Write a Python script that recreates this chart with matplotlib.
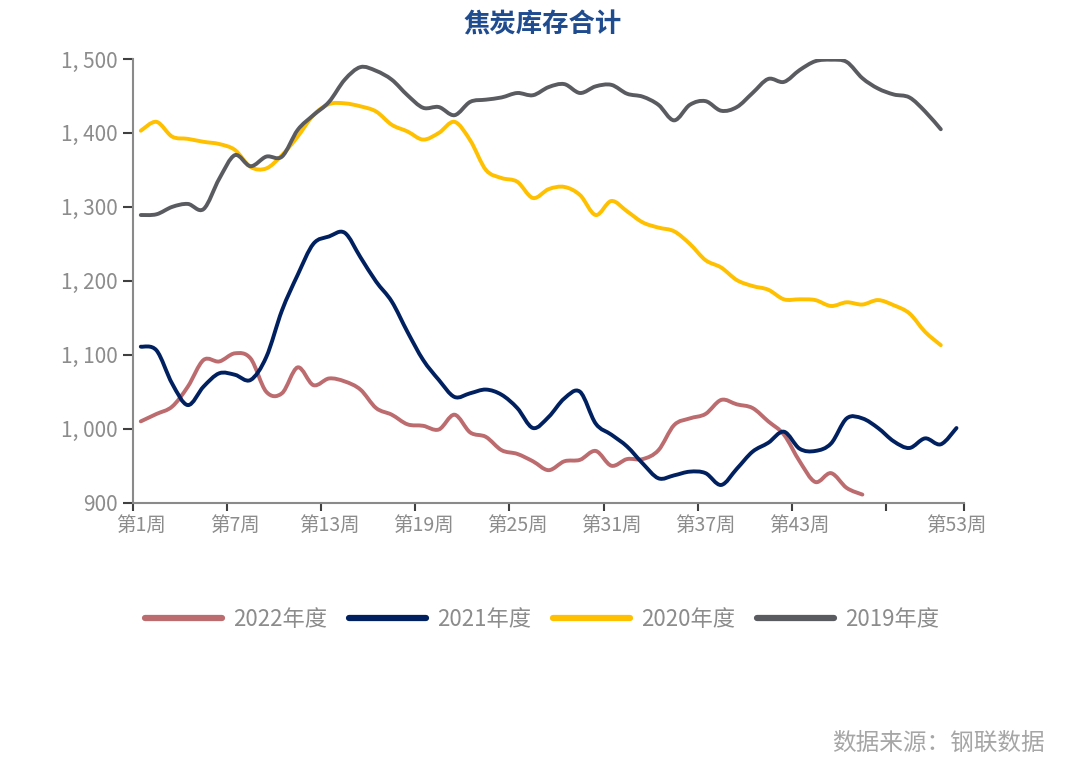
"""
焦炭库存合计: weekly coke inventory, 2019-2022 seasons
"""

import matplotlib
matplotlib.use("Agg")
import matplotlib.pyplot as plt
from matplotlib.path import Path
from matplotlib.patches import PathPatch
from matplotlib.lines import Line2D
from matplotlib.ticker import FuncFormatter

# weekly values
inv_2022 = [1010, 1020, 1030, 1057, 1093, 1091, 1102, 1095, 1050, 1048,
            1083, 1059, 1068, 1064, 1053, 1028, 1019, 1006, 1004, 999,
            1019, 995, 989, 971, 966, 956, 944, 956, 958, 970,
            950, 959, 959, 971, 1005, 1014, 1020, 1039, 1033, 1028,
            1010, 992, 956, 928, 940, 920, 911]
inv_2021 = [1111, 1106, 1061, 1032, 1057, 1075, 1073, 1066, 1097, 1160,
            1208, 1250, 1260, 1265, 1232, 1199, 1172, 1131, 1093, 1066,
            1043, 1048, 1053, 1046, 1028, 1001, 1016, 1041, 1050, 1007,
            992, 976, 953, 933, 937, 942, 940, 924, 946, 969,
            981, 996, 973, 970, 980, 1014, 1014, 1001, 983, 974,
            987, 979, 1001]
inv_2020 = [1403, 1415, 1395, 1392, 1388, 1385, 1377, 1354, 1352, 1370,
            1395, 1424, 1439, 1440, 1436, 1429, 1411, 1402, 1391, 1400,
            1415, 1390, 1350, 1339, 1334, 1312, 1324, 1327, 1316, 1289,
            1308, 1294, 1279, 1272, 1267, 1250, 1228, 1218, 1201, 1193,
            1188, 1175, 1175, 1174, 1166, 1171, 1168, 1174, 1167, 1156,
            1131, 1113]
inv_2019 = [1289, 1290, 1300, 1304, 1297, 1338, 1370, 1355, 1368, 1368,
            1404, 1424, 1442, 1472, 1489, 1484, 1472, 1451, 1434, 1435,
            1424, 1442, 1445, 1448, 1454, 1451, 1462, 1466, 1454, 1463,
            1465, 1453, 1449, 1438, 1417, 1438, 1443, 1430, 1435, 1454,
            1473, 1469, 1485, 1497, 1499, 1496, 1474, 1460, 1452, 1448,
            1429, 1405]

series = [("2022年度", inv_2022, "#BC6B6E"),
          ("2021年度", inv_2021, "#002060"),
          ("2020年度", inv_2020, "#FFC000"),
          ("2019年度", inv_2019, "#595B60")]

week_labels = {1: "第1周", 7: "第7周", 13: "第13周", 19: "第19周", 25: "第25周",
               31: "第31周", 37: "第37周", 43: "第43周", 53: "第53周"}

num_font = ["Liberation Sans Narrow", "Noto Sans CJK SC", "DejaVu Sans"]
cjk_font = ["Noto Sans CJK SC", "DejaVu Sans"]
label_grey = "#8C8C8C"


def smooth_path(xs, ys):
    # excel-like smoothed line: cubic bezier segments through every point
    pts = list(zip(xs, ys))
    verts = [pts[0]]
    codes = [Path.MOVETO]
    n = len(pts)
    for i in range(n - 1):
        p0 = pts[max(i - 1, 0)]
        p1 = pts[i]
        p2 = pts[i + 1]
        p3 = pts[min(i + 2, n - 1)]
        c1 = (p1[0] + (p2[0] - p0[0]) / 6, p1[1] + (p2[1] - p0[1]) / 6)
        c2 = (p2[0] - (p3[0] - p1[0]) / 6, p2[1] - (p3[1] - p1[1]) / 6)
        verts += [c1, c2, p2]
        codes += [Path.CURVE4] * 3
    return Path(verts, codes)


if __name__ == "__main__":
    fig = plt.figure(figsize=(10.8, 7.74), dpi=100)
    ax = fig.add_axes([0.1231, 0.3505, 0.7698, 0.5733])

    handles = []
    for name, vals, color in series:
        weeks = list(range(1, len(vals) + 1))
        patch = PathPatch(smooth_path(weeks, vals), fill=False, edgecolor=color,
                          lw=2.8, capstyle="round", joinstyle="round")
        ax.add_patch(patch)
        handles.append(Line2D([], [], color=color, lw=4.5, solid_capstyle="round",
                              label=name))

    ax.set_xlim(0.5, 53.5)
    ax.set_ylim(900, 1500)

    # tick marks sit between categories, labels at the category centres
    ax.set_xticks([0.5, 6.5, 12.5, 18.5, 24.5, 30.5, 36.5, 42.5, 48.5, 53.5])
    ax.set_xticklabels([])
    ax.set_xticks(list(week_labels.keys()), minor=True)
    ax.set_xticklabels(list(week_labels.values()), minor=True)
    ax.tick_params(axis="x", which="major", direction="out", length=6,
                   width=1.5, color="#404040")
    ax.tick_params(axis="x", which="minor", length=0, pad=9,
                   labelsize=14, labelcolor=label_grey)
    for t in ax.get_xticklabels(minor=True):
        t.set_family(num_font)

    ax.set_yticks(range(900, 1501, 100))
    ax.yaxis.set_major_formatter(FuncFormatter(lambda v, p: f"{v:,.0f}".replace(",", ", ")))
    ax.tick_params(axis="y", direction="out", length=7, width=1.5, color="#404040",
                   labelsize=15, labelcolor=label_grey, pad=4)
    for t in ax.get_yticklabels():
        t.set_family(num_font)

    for side in ["top", "right"]:
        ax.spines[side].set_visible(False)
    for side in ["left", "bottom"]:
        ax.spines[side].set_color("#8A8A8A")
        ax.spines[side].set_linewidth(1.5)

    fig.text(0.502, 0.968, "焦炭库存合计", ha="center", va="center", fontsize=19,
             color="#1F4B8F", family=cjk_font, fontweight="bold")

    leg = fig.legend(handles=handles, loc="center", bbox_to_anchor=(0.502, 0.2),
                     ncol=4, frameon=False, handlelength=3.45, handletextpad=0.5,
                     columnspacing=1.0, prop={"family": num_font, "size": 16})
    for t in leg.get_texts():
        t.set_color(label_grey)

    fig.text(0.967, 0.040, "数据来源：钢联数据", ha="right", va="center", fontsize=17,
             color="#A6A6A6", family=cjk_font)

    fig.savefig("out.png", dpi=100)
